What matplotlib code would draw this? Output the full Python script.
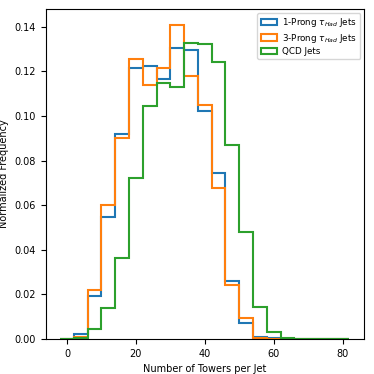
import matplotlib
matplotlib.use('Agg')
import matplotlib.pyplot as plt
import numpy as np

# bin edges: width 4 from -2 to 82
edges = np.arange(-2, 83, 4)
centers = edges[:-1] + 2

one_prong = [0.0, 0.0021, 0.0191, 0.0546, 0.0919, 0.1214, 0.1223, 0.1168, 0.1307, 0.1296,
             0.1024, 0.0745, 0.0261, 0.0073, 0.0010, 0.0002, 0.0001, 0.0, 0.0, 0.0, 0.0]
three_prong = [0.0, 0.0009, 0.0221, 0.0599, 0.0902, 0.1256, 0.1138, 0.1214, 0.1408, 0.1180,
               0.1051, 0.0677, 0.0242, 0.0093, 0.0005, 0.0001, 0.0, 0.0, 0.0, 0.0, 0.0]
qcd = [0.0, 0.0005, 0.0046, 0.0137, 0.0362, 0.0721, 0.1043, 0.1146, 0.1129, 0.1326,
       0.1323, 0.1240, 0.0869, 0.0479, 0.0145, 0.0029, 0.0005, 0.0001, 0.0001, 0.0001, 0.0001]

labels = [r'1-Prong $\tau_{Had}$ Jets', r'3-Prong $\tau_{Had}$ Jets', 'QCD Jets']

plt.rcParams['font.size'] = 7
fig = plt.figure(figsize=(3.74, 3.74), dpi=100)
ax = fig.add_axes([0.122, 0.094, 0.851, 0.881])

for vals, lab in zip([one_prong, three_prong, qcd], labels):
    ax.hist(centers, bins=edges, weights=vals, histtype='step', linewidth=1.5, label=lab)

ax.set_xlabel('Number of Towers per Jet')
ax.set_ylabel('Normalized Frequency')
ax.legend(loc='upper right', fontsize=6.3, labelspacing=0.25, handlelength=1.8,
          handletextpad=0.6, borderaxespad=0.4)

fig.savefig('out.png', dpi=100)
